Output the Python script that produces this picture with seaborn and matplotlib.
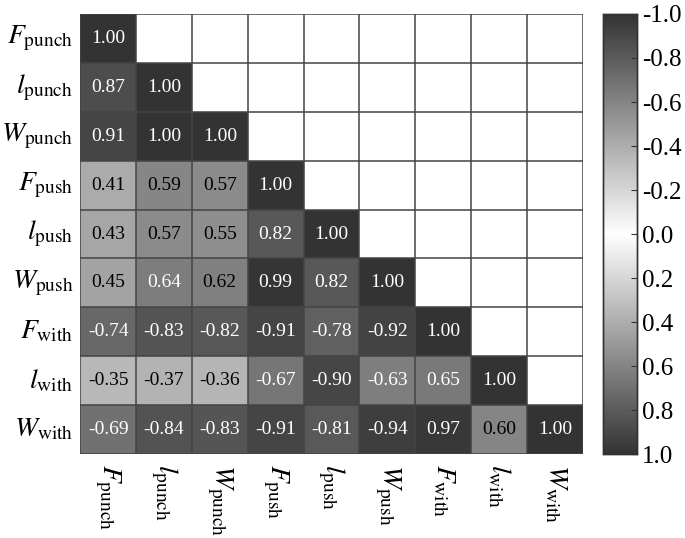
import numpy as np
import pandas as pd
import matplotlib
matplotlib.use("Agg")
import matplotlib.pyplot as plt
import seaborn as sns
from matplotlib.colors import LinearSegmentedColormap

labels = [r"$F_{\mathrm{punch}}$", r"$l_{\mathrm{punch}}$", r"$W_{\mathrm{punch}}$",
          r"$F_{\mathrm{push}}$", r"$l_{\mathrm{push}}$", r"$W_{\mathrm{push}}$",
          r"$F_{\mathrm{with}}$", r"$l_{\mathrm{with}}$", r"$W_{\mathrm{with}}$"]

row_F_punch = [1.00]
row_l_punch = [0.87, 1.00]
row_W_punch = [0.91, 1.00, 1.00]
row_F_push = [0.41, 0.59, 0.57, 1.00]
row_l_push = [0.43, 0.57, 0.55, 0.82, 1.00]
row_W_push = [0.45, 0.64, 0.62, 0.99, 0.82, 1.00]
row_F_with = [-0.74, -0.83, -0.82, -0.91, -0.78, -0.92, 1.00]
row_l_with = [-0.35, -0.37, -0.36, -0.67, -0.90, -0.63, 0.65, 1.00]
row_W_with = [-0.69, -0.84, -0.83, -0.91, -0.81, -0.94, 0.97, 0.60, 1.00]
rows = [row_F_punch, row_l_punch, row_W_punch, row_F_push, row_l_push,
        row_W_push, row_F_with, row_l_with, row_W_with]
cbar_ticks = [-1.0, -0.8, -0.6, -0.4, -0.2, 0.0, 0.2, 0.4, 0.6, 0.8, 1.0]

n = len(labels)
mat = np.full((n, n), np.nan)
for i, r in enumerate(rows):
    mat[i, :len(r)] = r
df = pd.DataFrame(mat, index=labels, columns=labels)
mask = np.isnan(mat)

plt.rcParams["font.family"] = ["Liberation Serif", "DejaVu Serif"]
plt.rcParams["mathtext.fontset"] = "stix"
plt.rcParams["axes.unicode_minus"] = False

cmap = LinearSegmentedColormap.from_list("absgray", ["#333333", "#ffffff", "#333333"])

fig = plt.figure(figsize=(6.85, 5.38), dpi=100)
ax = fig.add_axes([0.117, 0.156, 0.734, 0.818])
cax = fig.add_axes([0.880, 0.156, 0.050, 0.818])

sns.heatmap(df, mask=mask, cmap=cmap, vmin=-1, vmax=1, annot=True, fmt=".2f",
            annot_kws={"size": 14}, ax=ax, cbar_ax=cax, square=False,
            linewidths=0)

for t in ax.texts:
    try:
        v = float(t.get_text())
    except ValueError:
        continue
    t.set_color("white" if abs(v) > 0.625 else "black")

for k in range(n + 1):
    ax.axhline(k, color="#444444", lw=1.1, zorder=5)
    ax.axvline(k, color="#444444", lw=1.1, zorder=5)

ax.set_xlim(0, n)
ax.set_ylim(n, 0)
ax.tick_params(axis="both", length=0)
ax.set_xticklabels(labels, rotation=-90, fontsize=20)
ax.set_yticklabels(labels, rotation=0, fontsize=20)
ax.tick_params(axis="x", pad=7)
ax.tick_params(axis="y", pad=5)

cax.invert_yaxis()
cax.set_yticks(cbar_ticks)
cax.set_yticklabels([f"{v:.1f}" for v in cbar_ticks])
cax.tick_params(labelsize=18, direction="in", length=4, color="#333333")
for s in cax.spines.values():
    s.set_visible(True)
    s.set_color("#333333")
    s.set_linewidth(1)

fig.savefig("out.png", dpi=100)
